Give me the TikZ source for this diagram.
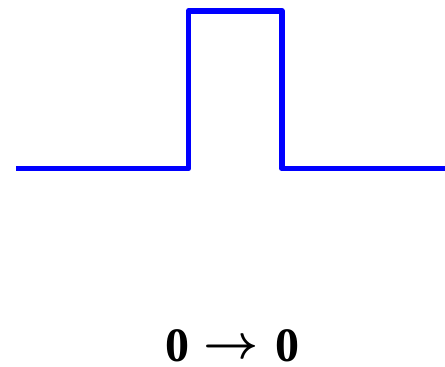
\documentclass[tikz,border=0pt]{standalone}
\usepackage{fix-cm}
\usepackage{fontspec}
\setmainfont{Liberation Serif}
\begin{document}
\begin{tikzpicture}[x=1pt,y=1pt,
  pulse/.style={draw={rgb,255:red,0;green,0;blue,255}, line width=5.6pt, line join=round},
  label/.style={font=\fontsize{48}{52}\selectfont\bfseries\boldmath, inner sep=0pt, anchor=base}]
\useasboundingbox (0,0) rectangle (445,-367);
\draw[pulse] (16,-168.5) -- (188.5,-168.5) -- (188.5,-10.7) -- (281.7,-10.7) -- (281.7,-168.5) -- (446,-168.5);
\node[label] (a) at (177.5,-361.5) {0};
\node[label] (arr) at (231.5,-358) {$\rightarrow$};
\node[label] (b) at (287,-361.5) {0};
\end{tikzpicture}
\end{document}
